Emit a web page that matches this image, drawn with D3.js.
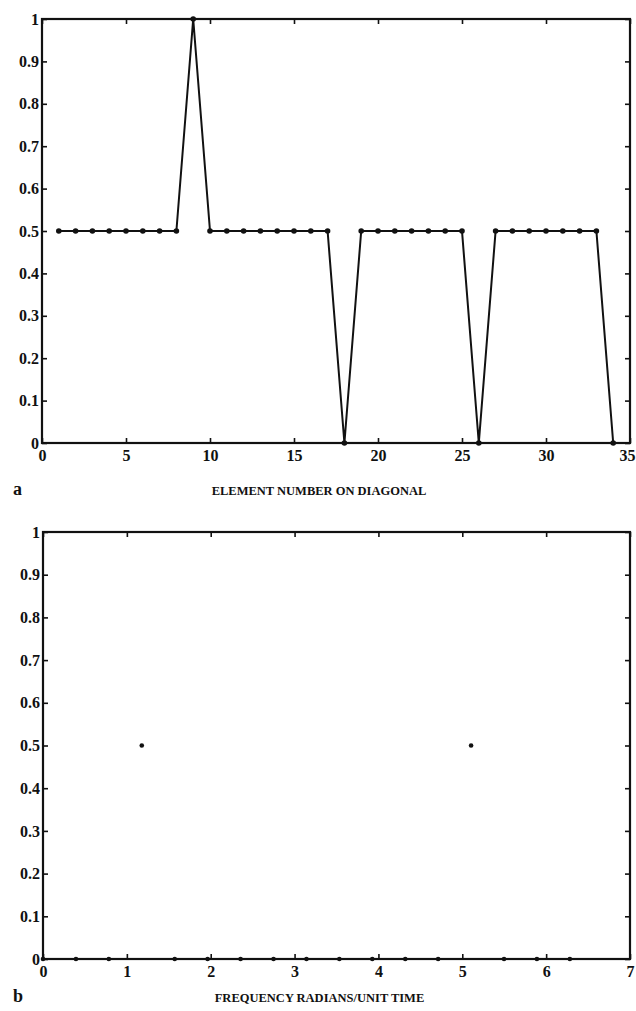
<!DOCTYPE html>
<html>
<head>
<meta charset="utf-8">
<script src="https://cdn.jsdelivr.net/npm/d3@7/dist/d3.min.js"></script>
<style>
  html, body { margin: 0; padding: 0; background: #fff; }
  svg { display: block; }
  text { font-family: "Liberation Serif", "DejaVu Serif", serif; font-weight: bold; fill: #111; }
</style>
</head>
<body>
<svg id="chart" width="636" height="1011"></svg>
<script>
// Panel a: diagonal elements
const elementIndex = [1,2,3,4,5,6,7,8,9,10,11,12,13,14,15,16,17,18,19,20,21,22,23,24,25,26,27,28,29,30,31,32,33,34];
const elementValue = [0.5,0.5,0.5,0.5,0.5,0.5,0.5,0.5,1,0.5,0.5,0.5,0.5,0.5,0.5,0.5,0.5,0,0.5,0.5,0.5,0.5,0.5,0.5,0.5,0,0.5,0.5,0.5,0.5,0.5,0.5,0.5,0];
const xTicksA = [0,5,10,15,20,25,30,35];

// Panel b: frequency response samples
const frequency = [0,0.393,0.785,1.178,1.571,1.963,2.356,2.749,3.142,3.534,3.927,4.320,4.712,5.105,5.498,5.890,6.283];
const frequencyValue = [0,0,0,0.5,0,0,0,0,0,0,0,0,0,0.5,0,0,0];
const xTicksB = [0,1,2,3,4,5,6,7];

const yTicks = [0,0.1,0.2,0.3,0.4,0.5,0.6,0.7,0.8,0.9,1];
const yTickLabels = ["0","0.1","0.2","0.3","0.4","0.5","0.6","0.7","0.8","0.9","1"];

const svg = d3.select("#chart");
const width = +svg.attr("width");

function panel(opts) {
  const {left, right, top, bottom, xDomain, xTicks, xs, ys, line, r, letter, title, titleY} = opts;
  const x = d3.scaleLinear().domain(xDomain).range([left, right]);
  const y = d3.scaleLinear().domain([0, 1]).range([bottom, top]);
  const g = svg.append("g");
  const tick = 5;

  // frame
  g.append("rect")
    .attr("x", left).attr("y", top)
    .attr("width", right - left).attr("height", bottom - top)
    .attr("fill", "none").attr("stroke", "#111").attr("stroke-width", 2.2);

  // axes with inward ticks; labels only on bottom and left
  const bottomAxis = d3.axisBottom(x).tickValues(xTicks).tickSizeInner(-tick).tickSizeOuter(0).tickPadding(7).tickFormat(d3.format("d"));
  const topAxis = d3.axisTop(x).tickValues(xTicks).tickSizeInner(-tick).tickSizeOuter(0).tickFormat("");
  const leftAxis = d3.axisLeft(y).tickValues(yTicks).tickSizeInner(-tick).tickSizeOuter(0).tickPadding(3)
    .tickFormat((d, i) => yTickLabels[i]);
  const rightAxis = d3.axisRight(y).tickValues(yTicks).tickSizeInner(-tick).tickSizeOuter(0).tickFormat("");

  const axes = [
    [bottomAxis, `translate(0,${bottom})`],
    [topAxis, `translate(0,${top})`],
    [leftAxis, `translate(${left},0)`],
    [rightAxis, `translate(${right},0)`]
  ];
  axes.forEach(([ax, tr], k) => {
    const a = g.append("g").attr("transform", tr).call(ax);
    a.select(".domain").remove();
    a.attr("font-size", 16).attr("font-family", "Liberation Serif, serif");
    a.selectAll("line").attr("stroke", "#111").attr("stroke-width", 1.6);
    a.selectAll("text").attr("font-size", 16).attr("font-weight", "bold").attr("fill", "#111");
    if (k === 0) {
      // keep the last bottom label inside the page edge
      a.selectAll("text").each(function (d) {
        const t = d3.select(this);
        const w = this.getComputedTextLength();
        const cx = x(d);
        if (cx + w / 2 > width - 1) t.attr("text-anchor", "end").attr("x", width - 1 - cx);
      });
    }
  });

  const pts = xs.map((d, i) => [d, ys[i]]);
  if (line) {
    g.append("path")
      .datum(pts)
      .attr("fill", "none").attr("stroke", "#111").attr("stroke-width", 2)
      .attr("stroke-linejoin", "round")
      .attr("d", d3.line().x(d => x(d[0])).y(d => y(d[1])));
  }
  g.selectAll("circle.pt").data(pts).join("circle")
    .attr("class", "pt")
    .attr("cx", d => x(d[0])).attr("cy", d => y(d[1])).attr("r", r)
    .attr("fill", "#111");

  svg.append("text").attr("x", 13).attr("y", titleY).attr("font-size", 18)
    .attr("font-family", "Liberation Sans, Arial, sans-serif").text(letter);
  svg.append("text").attr("x", (left + right) / 2 - 17).attr("y", titleY)
    .attr("text-anchor", "middle").attr("font-size", 12.5).text(title);
}

panel({
  left: 42, right: 630, top: 19, bottom: 443,
  xDomain: [0, 35], xTicks: xTicksA,
  xs: elementIndex, ys: elementValue, line: true, r: 2.8,
  letter: "a", title: "ELEMENT NUMBER ON DIAGONAL", titleY: 495
});

panel({
  left: 43, right: 630, top: 532, bottom: 959,
  xDomain: [0, 7], xTicks: xTicksB,
  xs: frequency, ys: frequencyValue, line: false, r: 2.3,
  letter: "b", title: "FREQUENCY RADIANS/UNIT TIME", titleY: 1002
});
</script>
</body>
</html>
